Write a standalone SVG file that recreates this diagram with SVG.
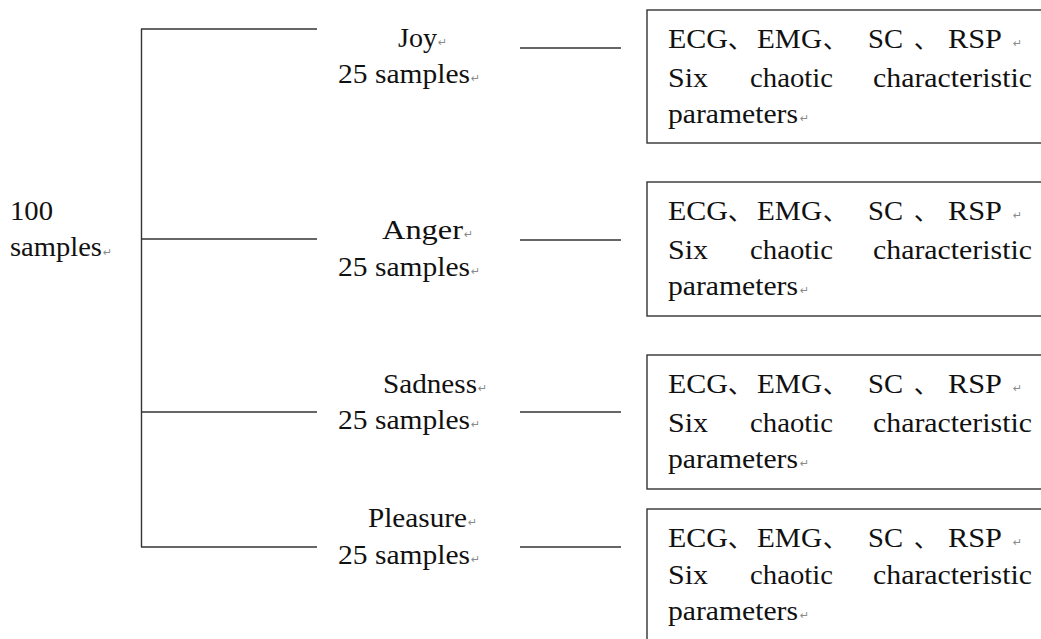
<svg xmlns="http://www.w3.org/2000/svg" width="1041" height="639" viewBox="0 0 1041 639">
<style>
  .t { font-family: "Liberation Serif", "Times New Roman", serif; font-size: 27px; fill: #111; }
  .c { font-family: "Noto Sans CJK SC", "Liberation Serif", sans-serif; font-size: 24px; fill: #111; }
  .pm { font-family: "DejaVu Sans", sans-serif; font-size: 11px; fill: #8a8a8a; }
  .ln { stroke: #333; stroke-width: 1.4; fill: none; }
  .box { stroke: #333; stroke-width: 1.4; fill: #fff; }
</style>
<rect width="1041" height="639" fill="#fff"/>

<g id="connectors">
  <line class="ln" x1="141.5" y1="29" x2="141.5" y2="547"/>
  <line class="ln" x1="141" y1="29" x2="317" y2="29"/>
  <line class="ln" x1="141" y1="239" x2="317" y2="239"/>
  <line class="ln" x1="141" y1="412" x2="317" y2="412"/>
  <line class="ln" x1="141" y1="547" x2="317" y2="547"/>
  <line class="ln" x1="520" y1="48" x2="621" y2="48"/>
  <line class="ln" x1="520" y1="240" x2="621" y2="240"/>
  <line class="ln" x1="520" y1="412" x2="621" y2="412"/>
  <line class="ln" x1="520" y1="547" x2="621" y2="547"/>
</g>

<g id="root">
  <text class="t" x="10" y="220" textLength="43" lengthAdjust="spacingAndGlyphs">100</text>
  <text class="t" x="10" y="256" textLength="92" lengthAdjust="spacingAndGlyphs">samples</text>
  <text class="pm" x="103" y="256">↵</text>
</g>

<g id="label-joy">
  <text class="t" x="398" y="47" textLength="39" lengthAdjust="spacingAndGlyphs">Joy</text>
  <text class="pm" x="438" y="46">↵</text>
  <text class="t" x="338" y="83" textLength="132" lengthAdjust="spacingAndGlyphs">25 samples</text>
  <text class="pm" x="471" y="82">↵</text>
</g>
<g id="label-anger">
  <text class="t" x="382" y="239" textLength="81" lengthAdjust="spacingAndGlyphs">Anger</text>
  <text class="pm" x="464" y="238">↵</text>
  <text class="t" x="338" y="276" textLength="132" lengthAdjust="spacingAndGlyphs">25 samples</text>
  <text class="pm" x="471" y="275">↵</text>
</g>
<g id="label-sadness">
  <text class="t" x="383" y="393" textLength="94" lengthAdjust="spacingAndGlyphs">Sadness</text>
  <text class="pm" x="478" y="392">↵</text>
  <text class="t" x="338" y="429" textLength="132" lengthAdjust="spacingAndGlyphs">25 samples</text>
  <text class="pm" x="471" y="428">↵</text>
</g>
<g id="label-pleasure">
  <text class="t" x="368" y="527" textLength="99" lengthAdjust="spacingAndGlyphs">Pleasure</text>
  <text class="pm" x="468" y="526">↵</text>
  <text class="t" x="338" y="564" textLength="132" lengthAdjust="spacingAndGlyphs">25 samples</text>
  <text class="pm" x="471" y="563">↵</text>
</g>

<g id="box-joy" transform="translate(647,10)">
  <rect class="box" x="0" y="0" width="400" height="133"/>
  <text class="t" x="21" y="38" textLength="60" lengthAdjust="spacingAndGlyphs">ECG</text>
  <text class="c" x="81" y="38">、</text>
  <text class="t" x="110" y="38" textLength="65" lengthAdjust="spacingAndGlyphs">EMG</text>
  <text class="c" x="176" y="38">、</text>
  <text class="t" x="221" y="38" textLength="35" lengthAdjust="spacingAndGlyphs">SC</text>
  <text class="c" x="267" y="38">、</text>
  <text class="t" x="301" y="38" textLength="54" lengthAdjust="spacingAndGlyphs">RSP</text>
  <text class="pm" x="366" y="37">↵</text>
  <text class="t" x="21" y="77" textLength="40" lengthAdjust="spacingAndGlyphs">Six</text>
  <text class="t" x="103" y="77" textLength="83" lengthAdjust="spacingAndGlyphs">chaotic</text>
  <text class="t" x="226" y="77" textLength="159" lengthAdjust="spacingAndGlyphs">characteristic</text>
  <text class="t" x="21" y="113" textLength="130" lengthAdjust="spacingAndGlyphs">parameters</text>
  <text class="pm" x="153" y="112">↵</text>
</g>

<g id="box-anger" transform="translate(647,182)">
  <rect class="box" x="0" y="0" width="400" height="134"/>
  <text class="t" x="21" y="38" textLength="60" lengthAdjust="spacingAndGlyphs">ECG</text>
  <text class="c" x="81" y="38">、</text>
  <text class="t" x="110" y="38" textLength="65" lengthAdjust="spacingAndGlyphs">EMG</text>
  <text class="c" x="176" y="38">、</text>
  <text class="t" x="221" y="38" textLength="35" lengthAdjust="spacingAndGlyphs">SC</text>
  <text class="c" x="267" y="38">、</text>
  <text class="t" x="301" y="38" textLength="54" lengthAdjust="spacingAndGlyphs">RSP</text>
  <text class="pm" x="366" y="37">↵</text>
  <text class="t" x="21" y="77" textLength="40" lengthAdjust="spacingAndGlyphs">Six</text>
  <text class="t" x="103" y="77" textLength="83" lengthAdjust="spacingAndGlyphs">chaotic</text>
  <text class="t" x="226" y="77" textLength="159" lengthAdjust="spacingAndGlyphs">characteristic</text>
  <text class="t" x="21" y="113" textLength="130" lengthAdjust="spacingAndGlyphs">parameters</text>
  <text class="pm" x="153" y="112">↵</text>
</g>

<g id="box-sadness" transform="translate(647,355)">
  <rect class="box" x="0" y="0" width="400" height="134"/>
  <text class="t" x="21" y="38" textLength="60" lengthAdjust="spacingAndGlyphs">ECG</text>
  <text class="c" x="81" y="38">、</text>
  <text class="t" x="110" y="38" textLength="65" lengthAdjust="spacingAndGlyphs">EMG</text>
  <text class="c" x="176" y="38">、</text>
  <text class="t" x="221" y="38" textLength="35" lengthAdjust="spacingAndGlyphs">SC</text>
  <text class="c" x="267" y="38">、</text>
  <text class="t" x="301" y="38" textLength="54" lengthAdjust="spacingAndGlyphs">RSP</text>
  <text class="pm" x="366" y="37">↵</text>
  <text class="t" x="21" y="77" textLength="40" lengthAdjust="spacingAndGlyphs">Six</text>
  <text class="t" x="103" y="77" textLength="83" lengthAdjust="spacingAndGlyphs">chaotic</text>
  <text class="t" x="226" y="77" textLength="159" lengthAdjust="spacingAndGlyphs">characteristic</text>
  <text class="t" x="21" y="113" textLength="130" lengthAdjust="spacingAndGlyphs">parameters</text>
  <text class="pm" x="153" y="112">↵</text>
</g>

<g id="box-pleasure" transform="translate(647,509)">
  <rect class="box" x="0" y="0" width="400" height="134"/>
  <text class="t" x="21" y="38" textLength="60" lengthAdjust="spacingAndGlyphs">ECG</text>
  <text class="c" x="81" y="38">、</text>
  <text class="t" x="110" y="38" textLength="65" lengthAdjust="spacingAndGlyphs">EMG</text>
  <text class="c" x="176" y="38">、</text>
  <text class="t" x="221" y="38" textLength="35" lengthAdjust="spacingAndGlyphs">SC</text>
  <text class="c" x="267" y="38">、</text>
  <text class="t" x="301" y="38" textLength="54" lengthAdjust="spacingAndGlyphs">RSP</text>
  <text class="pm" x="366" y="37">↵</text>
  <text class="t" x="21" y="75" textLength="40" lengthAdjust="spacingAndGlyphs">Six</text>
  <text class="t" x="103" y="75" textLength="83" lengthAdjust="spacingAndGlyphs">chaotic</text>
  <text class="t" x="226" y="75" textLength="159" lengthAdjust="spacingAndGlyphs">characteristic</text>
  <text class="t" x="21" y="111" textLength="130" lengthAdjust="spacingAndGlyphs">parameters</text>
  <text class="pm" x="153" y="110">↵</text>
</g>
</svg>
